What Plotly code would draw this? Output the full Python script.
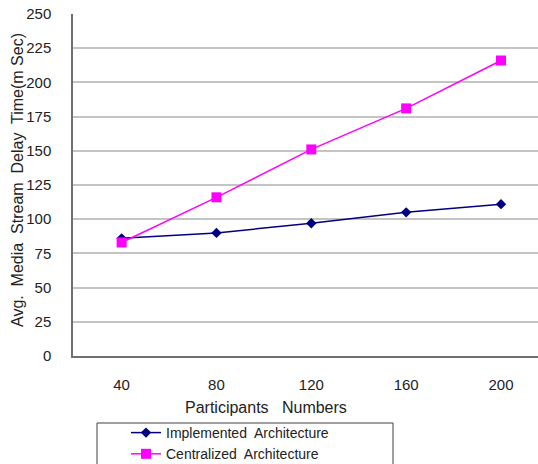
import plotly.graph_objects as go

# Participants per session and average media stream delay (ms)
participants = [40, 80, 120, 160, 200]
implemented_delay = [86, 90, 97, 105, 111]
centralized_delay = [83, 116, 151, 181, 216]
y_ticks = [0, 25, 50, 75, 100, 125, 150, 175, 200, 225, 250]

W, H = 538, 464
L, R, T, B = 73, 0, 14, 108
PW, PH = W - L - R, H - T - B

FONT = "Liberation Sans, Arial, sans-serif"
TXT = "#222222"


def px_x(p):
    return (p - L) / PW


def px_y(p):
    return (H - B - p) / PH


fig = go.Figure()
fig.add_trace(go.Scatter(
    x=participants, y=implemented_delay, mode="lines+markers",
    name="Implemented  Architecture",
    line=dict(color="#000080", width=1.5),
    marker=dict(symbol="diamond", size=8, color="#000080"),
))
fig.add_trace(go.Scatter(
    x=participants, y=centralized_delay, mode="lines+markers",
    name="Centralized  Architecture",
    line=dict(color="#FF00FF", width=1.5),
    marker=dict(symbol="square", size=10, color="#FF00FF"),
))

fig.update_layout(
    width=W, height=H,
    margin=dict(l=L, r=R, t=T, b=B, pad=0, autoexpand=False),
    paper_bgcolor="white", plot_bgcolor="white",
    font=dict(family=FONT, size=15, color=TXT),
    showlegend=True,
    legend=dict(
        xref="container", yref="container",
        x=126 / W, y=(H - 417) / H, xanchor="left", yanchor="top",
        bgcolor="rgba(0,0,0,0)", borderwidth=0,
        font=dict(family=FONT, size=14, color=TXT),
        tracegroupgap=0, itemwidth=30,
    ),
    xaxis=dict(
        range=[19.5, 215.6], tickmode="array", tickvals=participants,
        ticktext=[str(v) for v in participants],
        showgrid=False, zeroline=False, showline=True,
        linecolor="#707070", linewidth=1.5, ticks="",
        ticklabelstandoff=14,
        tickfont=dict(family=FONT, size=15, color=TXT),
    ),
    yaxis=dict(
        range=[0, 250], tickmode="array", tickvals=y_ticks,
        showgrid=True, gridcolor="#c4c4c4", gridwidth=1.5,
        zeroline=False, showline=True, linecolor="#707070", linewidth=1.5,
        ticks="", ticklabelstandoff=17,
        tickfont=dict(family=FONT, size=15, color=TXT),
    ),
    annotations=[
        dict(text="Avg.  Media  Stream  Delay  Time(m Sec)", textangle=-90,
             xref="paper", yref="paper", x=px_x(17), y=px_y(180),
             xanchor="center", yanchor="middle", showarrow=False,
             font=dict(family=FONT, size=16, color=TXT)),
        dict(text="Participants   Numbers",
             xref="paper", yref="paper", x=px_x(266), y=px_y(407),
             xanchor="center", yanchor="middle", showarrow=False,
             font=dict(family=FONT, size=16, color=TXT)),
    ],
    shapes=[
        dict(type="rect", xref="paper", yref="paper",
             x0=px_x(97), x1=px_x(393), y0=px_y(423), y1=px_y(475),
             line=dict(color="#404040", width=1), fillcolor="rgba(0,0,0,0)"),
    ],
)

fig.write_html("out.html")
